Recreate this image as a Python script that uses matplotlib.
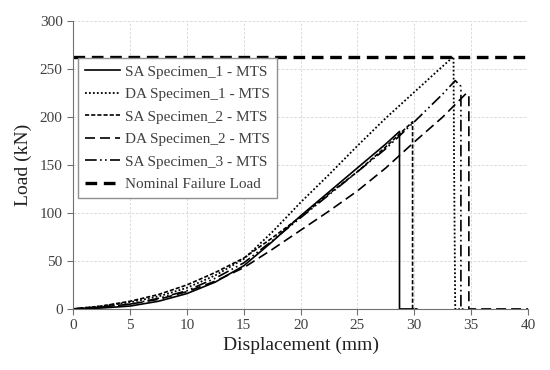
import matplotlib.pyplot as plt

plt.rcParams['font.family'] = ['Liberation Serif', 'DejaVu Serif']

# 读图估计的数据 (位移 mm, 荷载 kN)
sa1_x = [0, 2.5, 5, 7.5, 10, 12.5, 15, 17.5, 20, 22.5, 25, 27.5, 28.7, 28.7, 29.9]
sa1_y = [0, 1, 3, 8, 16, 28, 45, 70, 97, 122, 147, 172, 185, 0, 0]

da1_x = [0, 2.5, 5, 7.5, 10, 12.5, 15, 17.5, 20, 22.5, 25, 27.5, 30, 32.5, 33.45, 33.5, 33.6, 34.0]
da1_y = [0, 3, 7, 13, 22, 35, 52, 80, 111, 140, 170, 199, 226, 253, 263, 150, 0, 0]

sa2_x = [0, 2.5, 5, 7.5, 10, 12.5, 15, 17.5, 20, 22.5, 25, 27.5, 29.85, 29.85, 30.3]
sa2_y = [0, 3, 8, 15, 25, 38, 53, 74, 96, 120, 143, 169, 195, 0, 0]

da2_x = [0, 2.5, 5, 7.5, 10, 12.5, 15, 17.5, 20, 22.5, 25, 27.5, 30, 32.5, 34.6, 34.8, 34.8, 40]
da2_y = [0, 2, 5, 10, 18, 29, 43, 62, 82, 102, 123, 147, 174, 200, 225, 222, 0, 0]

sa3_x = [0, 2.5, 5, 7.5, 10, 12.5, 15, 17.5, 20, 22.5, 25, 27.5, 30, 32.5, 33.6, 34.1, 34.1, 34.5]
sa3_y = [0, 2, 5, 11, 19, 32, 48, 71, 95, 119, 143, 167, 195, 224, 238, 232, 0, 0]

nominal_load = 263

fig, ax = plt.subplots(figsize=(5.5, 3.7), dpi=100)
fig.subplots_adjust(left=0.133, right=0.96, bottom=0.165, top=0.943)

ax.plot(sa1_x, sa1_y, color='black', lw=1.2, ls='-', label='SA Specimen_1 - MTS')
ax.plot(da1_x, da1_y, color='black', lw=1.3, ls=(0, (1, 1.2)), label='DA Specimen_1 - MTS')
ax.plot(sa2_x, sa2_y, color='black', lw=1.2, ls=(0, (2.5, 1.2)), label='SA Specimen_2 - MTS')
ax.plot(da2_x, da2_y, color='black', lw=1.2, ls=(0, (6, 3)), label='DA Specimen_2 - MTS')
ax.plot(sa3_x, sa3_y, color='black', lw=1.2, ls=(0, (7, 2, 1, 2, 1, 2)), label='SA Specimen_3 - MTS')
ax.plot([0, 40], [nominal_load, nominal_load], color='black', lw=2.4, ls=(0, (3.5, 2)),
        label='Nominal Failure Load')

ax.set_xlim(0, 40)
ax.set_ylim(0, 300)
ax.set_xticks(range(0, 41, 5))
ax.set_yticks(range(0, 301, 50))
ax.grid(True, color='#d4d4d4', ls=(0, (3, 2)), lw=0.6)
ax.set_axisbelow(True)

for s in ['top', 'right']:
    ax.spines[s].set_visible(False)
for s in ['left', 'bottom']:
    ax.spines[s].set_color('#707070')
    ax.spines[s].set_linewidth(0.8)
ax.tick_params(direction='out', length=4, width=0.8, color='#707070',
               labelsize=11, labelcolor='#404040')

ax.set_xlabel('Displacement (mm)', fontsize=14, color='#202020', labelpad=3)
ax.set_ylabel('Load (kN)', fontsize=14, color='#202020', labelpad=6)

leg = ax.legend(loc='upper left', bbox_to_anchor=(0.011, 0.872), fontsize=11,
                frameon=True, fancybox=False, edgecolor='#909090', framealpha=1,
                handlelength=2.3, handletextpad=0.3, labelspacing=0.58,
                borderpad=0.45, borderaxespad=0)
leg.get_frame().set_linewidth(1.0)
for t in leg.get_texts():
    t.set_color('#404040')

fig.savefig('out.png', dpi=100)
